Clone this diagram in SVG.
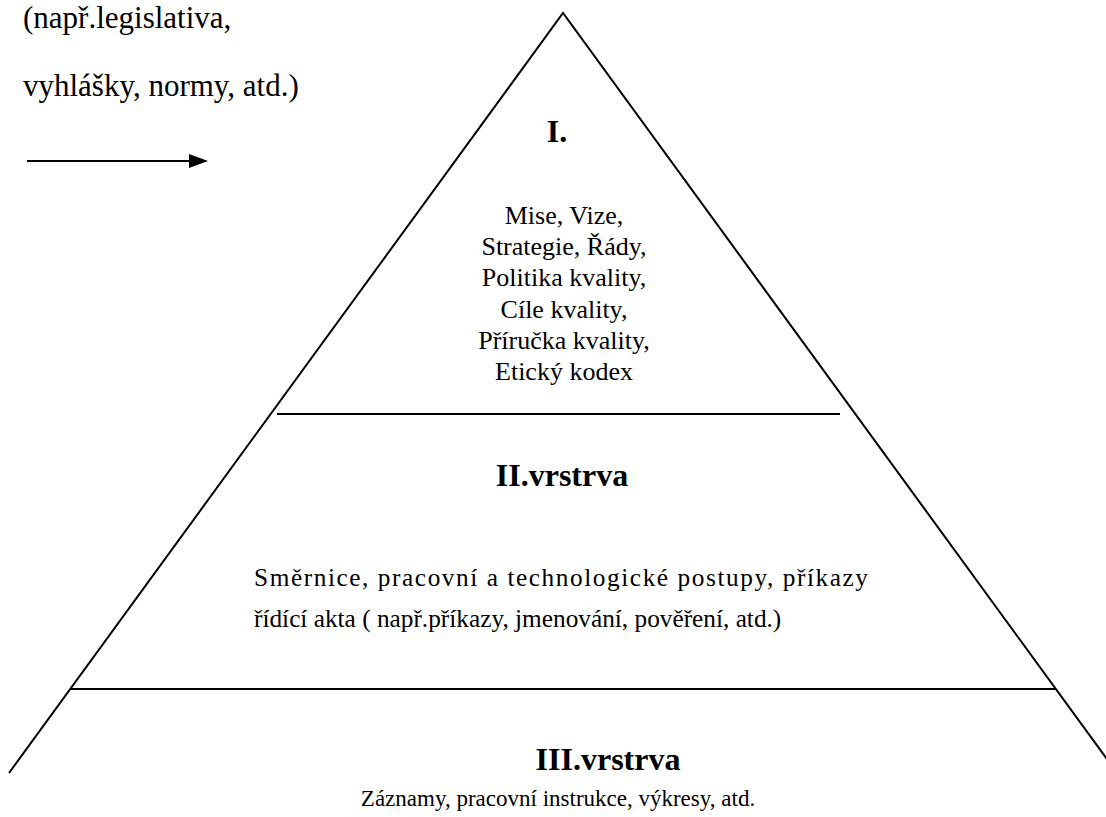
<svg xmlns="http://www.w3.org/2000/svg" width="1106" height="817" viewBox="0 0 1106 817">
<style>
text{font-family:"Liberation Serif","DejaVu Serif",serif;fill:#000}
.b{font-weight:bold;font-size:32px}
.m{font-size:26px}
.ln{stroke:#000;stroke-width:2;fill:none}
</style>
<rect width="1106" height="817" fill="#fff"/>
<g id="connectors">
<polyline class="ln" points="9,773 563,13 1120,777"/>
<line class="ln" x1="277" y1="414" x2="840" y2="414"/>
<line class="ln" x1="70" y1="689" x2="1055" y2="689"/>
<line class="ln" x1="27" y1="161" x2="192" y2="161"/>
<polygon points="189,154 208,161 189,168" fill="#000"/>
</g>
<g id="note">
<text x="23" y="28" font-size="31">(např.legislativa,</text>
<text x="23" y="96" font-size="31">vyhlášky, normy, atd.)</text>
</g>
<g id="layer1">
<text class="b" x="557" y="142" text-anchor="middle">I.</text>
<text class="m" x="564" y="224" text-anchor="middle">Mise, Vize,</text>
<text class="m" x="564" y="255" text-anchor="middle">Strategie, Řády,</text>
<text class="m" x="564" y="286" text-anchor="middle">Politika kvality,</text>
<text class="m" x="564" y="318" text-anchor="middle">Cíle kvality,</text>
<text class="m" x="564" y="349" text-anchor="middle">Příručka kvality,</text>
<text class="m" x="564" y="380" text-anchor="middle">Etický kodex</text>
</g>
<g id="layer2">
<text class="b" x="562" y="486" text-anchor="middle">II.vrstrva</text>
<text x="254" y="586" font-size="25.3" textLength="614" lengthAdjust="spacing">Směrnice, pracovní a technologické postupy, příkazy</text>
<text x="254" y="627" font-size="25.3">řídící akta ( např.příkazy, jmenování, pověření, atd.)</text>
</g>
<g id="layer3">
<text class="b" x="608" y="770" text-anchor="middle">III.vrstrva</text>
<text x="558" y="806" font-size="23" text-anchor="middle">Záznamy, pracovní instrukce,  výkresy, atd.</text>
</g>
</svg>
